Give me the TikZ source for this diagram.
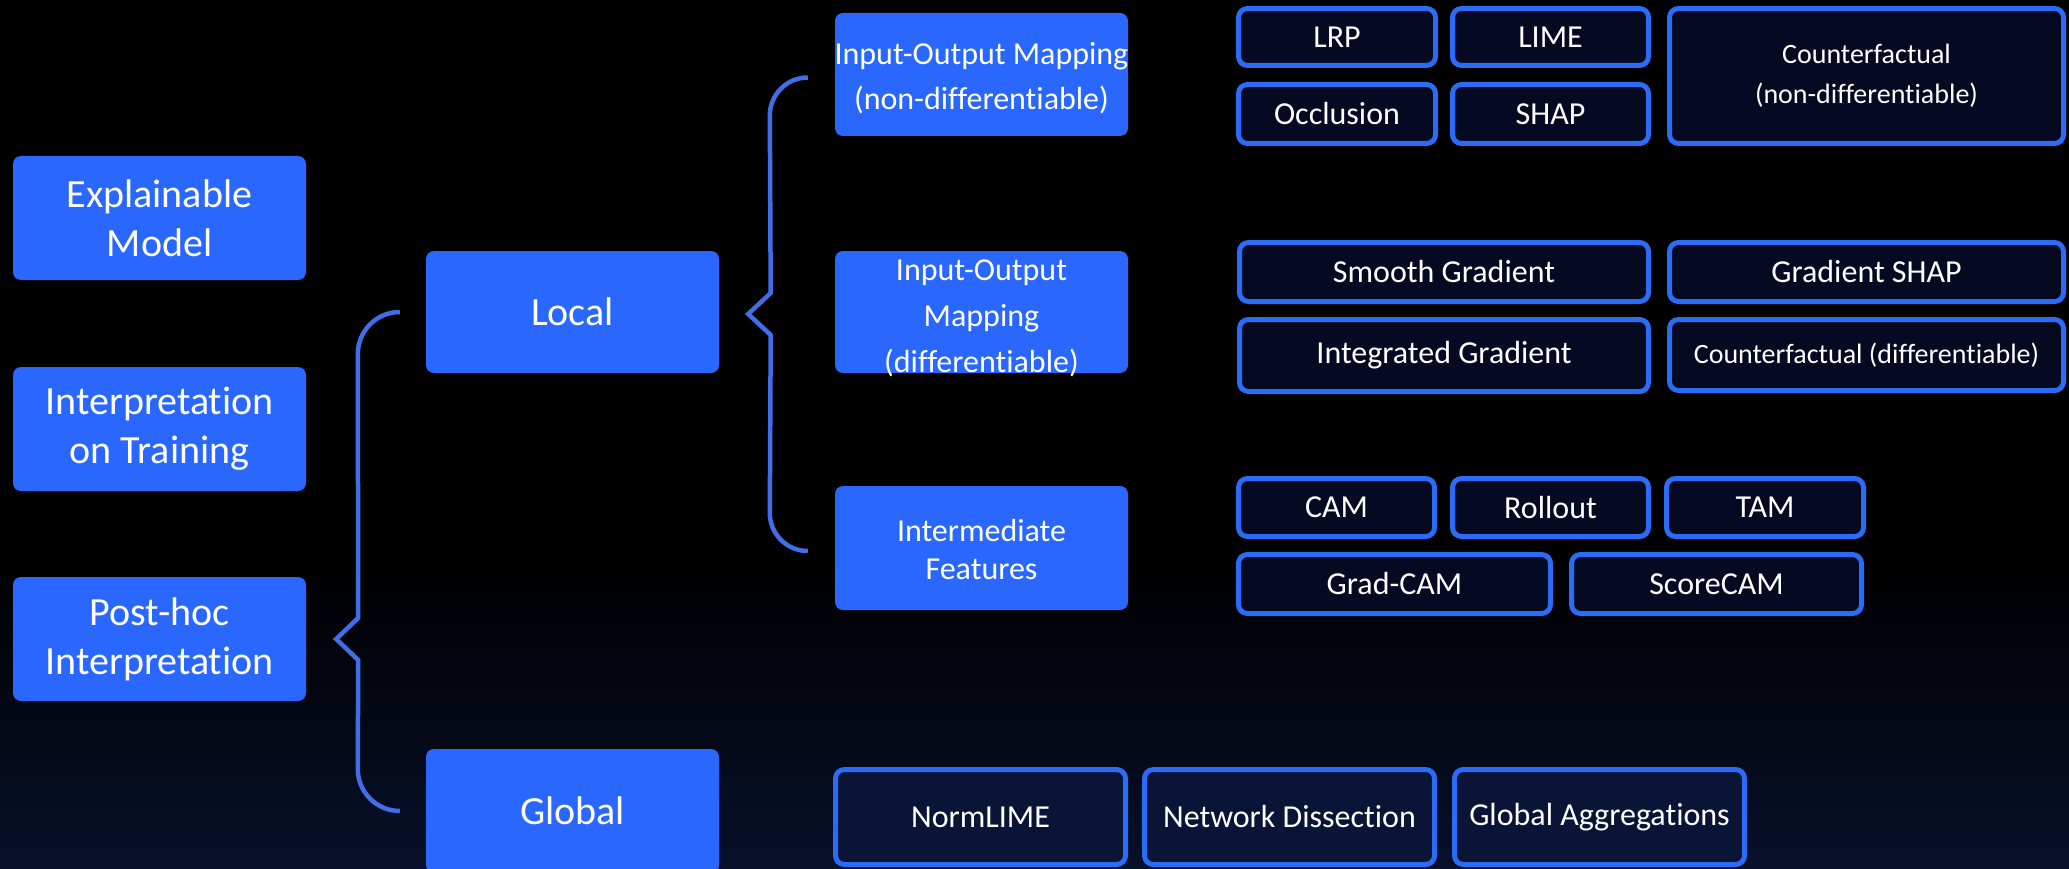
\documentclass[tikz,border=0pt]{standalone}
\usepackage{fontspec}
\setmainfont[Ligatures=NoCommon]{Carlito}
\usetikzlibrary{calc}
\definecolor{pblue}{RGB}{41,103,255}
\definecolor{bord}{RGB}{43,108,247}
\definecolor{dark}{RGB}{5,9,34}
\definecolor{darkg}{RGB}{9,20,55}
\definecolor{brc}{RGB}{64,110,230}
\definecolor{navy}{RGB}{8,16,42}
\begin{document}
\begin{tikzpicture}[x=1pt,y=-1pt,
  prim/.style={fill=pblue, draw=none, rounded corners=8pt, inner sep=0pt, text=white, align=center, font=\fontsize{40}{49}\selectfont},
  leaf/.style={fill=dark, draw=bord, line width=5pt, rounded corners=9pt, inner sep=0pt, text=white, align=center, font=\fontsize{32}{40}\selectfont},
  gleaf/.style={leaf, fill=darkg},
  small/.style={font=\fontsize{28}{40}\selectfont},
  brace/.style={draw=brc, line width=4.5pt, line join=miter}
]
\fill[black] (0,0) rectangle (2069,869);
\shade[top color=black, bottom color=navy] (0,560) rectangle (2069,869);
\useasboundingbox (0,0) rectangle (2069,869);

% left column
\node[prim, minimum width=293pt, minimum height=124pt] (EM) at (159.5,218) {Explainable\\Model};
\node[prim, minimum width=293pt, minimum height=124pt] (IoT) at (159.5,429) {Interpretation\\on Training};
\node[prim, minimum width=293pt, minimum height=124pt] (PH) at (159.5,639) {Post-hoc\\Interpretation};

% second column
\node[prim, minimum width=293pt, minimum height=122pt] (Local) at (572.5,312) {Local};
\node[prim, minimum width=293pt, minimum height=124pt] (Global) at (572.5,811) {Global};

% third column
\node[prim, minimum width=293pt, minimum height=123pt,
  label={[text=white, align=center, inner sep=0pt, font=\fontsize{32}{45}\selectfont, yshift=-4pt]center:{Input-Output Mapping\\(non-differentiable)}}] (IOM1) at (981.5,74.5) {};
\node[prim, minimum width=293pt, minimum height=122pt,
  label={[text=white, align=center, inner sep=0pt, font=\fontsize{32}{46}\selectfont, yshift=-6pt]center:{Input-Output\\Mapping\\(differentiable)}}] (IOM2) at (981.5,312) {};
\node[prim, minimum width=293pt, minimum height=124pt,
  label={[text=white, align=center, inner sep=0pt, font=\fontsize{32}{38}\selectfont, yshift=-2pt]center:{Intermediate\\Features}}] (IF) at (981.5,548) {};

% leaves: non-differentiable
\node[leaf, minimum width=197pt, minimum height=57pt] (LRP) at (1337,37) {LRP};
\node[leaf, minimum width=196pt, minimum height=57pt] (LIME) at (1550.5,37) {LIME};
\node[leaf, minimum width=197pt, minimum height=59pt] (Occ) at (1337,114) {Occlusion};
\node[leaf, minimum width=196pt, minimum height=59pt] (SHAP) at (1550.5,114) {SHAP};
\node[leaf, small, minimum width=394pt, minimum height=135pt] (CFnd) at (1866.5,76) {Counterfactual\\(non-differentiable)};

% leaves: differentiable
\node[leaf, minimum width=409pt, minimum height=59pt] (SG) at (1444,272) {Smooth Gradient};
\node[leaf, minimum width=394pt, minimum height=59pt] (GS) at (1866.5,272) {Gradient SHAP};
\node[leaf, minimum width=409pt, minimum height=72pt] (IG) at (1444,355.5) {Integrated Gradient};
\node[leaf, small, minimum width=394pt, minimum height=71pt] (CFd) at (1866.5,355) {Counterfactual (differentiable)};

% leaves: intermediate features
\node[leaf, minimum width=196pt, minimum height=58pt] (CAM) at (1336.5,507.5) {CAM};
\node[leaf, minimum width=196pt, minimum height=58pt] (Roll) at (1550.5,507.5) {Rollout};
\node[leaf, minimum width=197pt, minimum height=58pt] (TAM) at (1765,507.5) {TAM};
\node[leaf, minimum width=312pt, minimum height=59pt] (GCAM) at (1394.5,584) {Grad-CAM};
\node[leaf, minimum width=290pt, minimum height=59pt] (SCAM) at (1716.5,584) {ScoreCAM};

% leaves: global
\node[gleaf, minimum width=290pt, minimum height=95pt] (NL) at (980.5,817) {NormLIME};
\node[gleaf, minimum width=290pt, minimum height=95pt] (ND) at (1289.5,817) {Network Dissection};
\node[gleaf, minimum width=290pt, minimum height=95pt] (GA) at (1599.5,817) {Global Aggregations};

% brace 1: Post-hoc -> Local / Global
\coordinate (b1top) at ([xshift=-26pt]Local.west);
\coordinate (b1bot) at ([xshift=-26pt]Global.west);
\coordinate (b1tip) at ([xshift=30pt]PH.east);
\draw[brace] (b1top) arc[start angle=90,end angle=180,radius=42pt]
  -- ([shift={(22pt,21pt)}]b1tip) -- (b1tip) -- ([shift={(22pt,-21pt)}]b1tip)
  -- ([shift={(-42pt,42pt)}]b1bot) arc[start angle=180,end angle=270,radius=42pt];

% brace 2: Local -> three kinds
\coordinate (b2top) at ([xshift=-27pt,yshift=-3pt]IOM1.west);
\coordinate (b2bot) at ([xshift=-27pt,yshift=-3pt]IF.west);
\coordinate (b2tip) at ([xshift=29pt,yshift=-2pt]Local.east);
\draw[brace] (b2top) arc[start angle=90,end angle=180,radius=38pt]
  -- ([shift={(22.5pt,21pt)}]b2tip) -- (b2tip) -- ([shift={(22.5pt,-21pt)}]b2tip)
  -- ([shift={(-38pt,38pt)}]b2bot) arc[start angle=180,end angle=270,radius=38pt];
\end{tikzpicture}
\end{document}
